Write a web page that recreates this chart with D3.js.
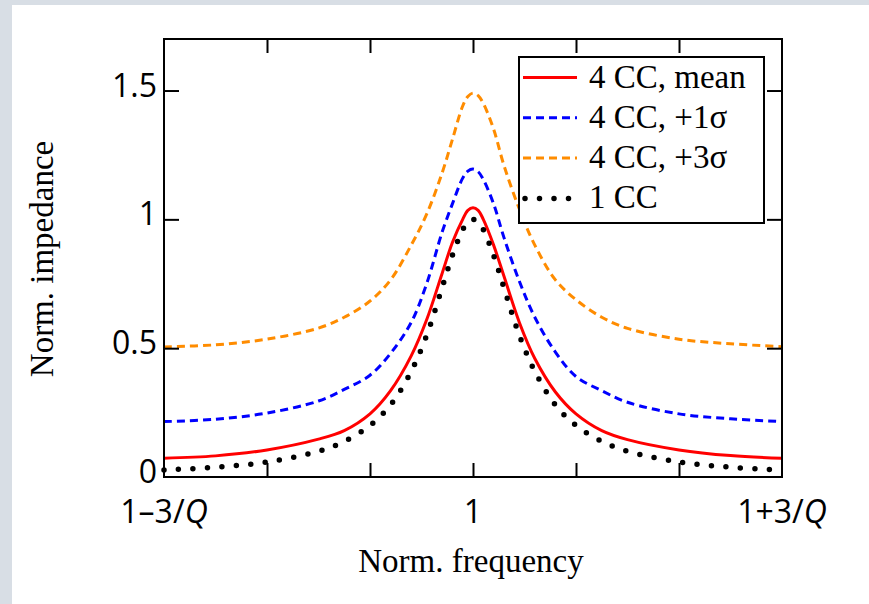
<!DOCTYPE html>
<html>
<head>
<meta charset="utf-8">
<script src="https://cdn.jsdelivr.net/npm/d3@7"></script>
<style>
  html, body { margin: 0; padding: 0; background: #d8dee5; }
  svg { display: block; }
</style>
</head>
<body>
<svg id="chart" width="869" height="604"></svg>
<script>
// detuning in units of 1/Q around the resonance
const detuning = [-3, -2.5, -2, -1.5, -1.25, -1, -0.8, -0.6, -0.45, -0.3, -0.2, -0.1, -0.05, 0,
                  0.05, 0.1, 0.2, 0.3, 0.45, 0.6, 0.8, 1, 1.25, 1.5, 2, 2.5, 3];

const meanCC4 = [0.073, 0.082, 0.105, 0.147, 0.18, 0.245, 0.335, 0.47, 0.61, 0.79, 0.91, 1.0, 1.035, 1.045,
                 1.035, 1.0, 0.9, 0.78, 0.6, 0.46, 0.33, 0.245, 0.18, 0.145, 0.105, 0.083, 0.073];
const plus1Sigma = [0.215, 0.224, 0.248, 0.295, 0.34, 0.395, 0.48, 0.6, 0.75, 0.95, 1.06, 1.16, 1.187, 1.195,
                    1.185, 1.155, 1.06, 0.93, 0.76, 0.62, 0.485, 0.39, 0.335, 0.29, 0.245, 0.226, 0.215];
const plus3Sigma = [0.505, 0.513, 0.535, 0.578, 0.62, 0.683, 0.765, 0.9, 1.02, 1.18, 1.31, 1.44, 1.477, 1.49,
                    1.48, 1.45, 1.35, 1.21, 1.04, 0.9, 0.765, 0.688, 0.62, 0.577, 0.535, 0.517, 0.506];
const oneCC = [0.027, 0.038, 0.058, 0.1, 0.138, 0.2, 0.28, 0.41, 0.55, 0.735, 0.86, 0.96, 0.99, 1.0,
               0.99, 0.96, 0.86, 0.735, 0.55, 0.41, 0.28, 0.2, 0.138, 0.1, 0.058, 0.038, 0.027];

const seriesNames = ["4 CC, mean", "4 CC, +1\u03c3", "4 CC, +3\u03c3", "1 CC"];
const seriesColors = ["#ff0000", "#0000ff", "#ff8c00", "#000000"];

const yTickValues = [0.5, 1, 1.5];
const yTickLabels = ["0", "0.5", "1", "1.5"];
const yLabelValues = [0, 0.5, 1, 1.5];
const xTickValues = [-2, -1, 0, 1, 2];
const xLabelValues = [-3, 0, 3];
const xLabelText = ["1\u20133/", "1", "1+3/"];
const xLabelItalic = ["Q", "", "Q"];

var svg = d3.select("#chart")

// white panel on the grey slide
svg.append("rect")
  .attr("x", 12).attr("y", 5)
  .attr("width", 869 - 12).attr("height", 604 - 5)
  .attr("fill", "#ffffff")

var plotLeft = 164, plotRight = 782, plotTop = 39, plotBottom = 477

var x = d3.scaleLinear().domain([-3, 3]).range([plotLeft, plotRight])
var y = d3.scaleLinear().domain([0, 1.7]).range([plotBottom, plotTop])

var styles = [
  { dash: null, width: 3, cap: "butt" },
  { dash: "8 5", width: 3, cap: "butt" },
  { dash: "8 5", width: 3, cap: "butt" },
  { dash: "0 14.5", width: 5.5, cap: "round" }
]
var allValues = [meanCC4, plus1Sigma, plus3Sigma, oneCC]

var series = seriesNames.map(function(name, i) {
  return {
    name: name,
    color: seriesColors[i],
    style: styles[i],
    points: detuning.map(function(u, j) { return [u, allValues[i][j]] })
  }
})

var line = d3.line()
  .x(function(d) { return x(d[0]) })
  .y(function(d) { return y(d[1]) })
  .curve(d3.curveCatmullRom.alpha(0.5))

// curves
svg.append("g")
  .selectAll("path")
  .data(series)
  .enter()
  .append("path")
  .attr("d", function(d) { return line(d.points) })
  .attr("fill", "none")
  .attr("stroke", function(d) { return d.color })
  .attr("stroke-width", function(d) { return d.style.width })
  .attr("stroke-dasharray", function(d) { return d.style.dash })
  .attr("stroke-linecap", function(d) { return d.style.cap })

// inward ticks on all four sides
svg.append("g")
  .attr("transform", "translate(0," + plotBottom + ")")
  .call(d3.axisBottom(x).tickValues(xTickValues).tickSize(-14).tickFormat(""))
svg.append("g")
  .attr("transform", "translate(0," + plotTop + ")")
  .call(d3.axisTop(x).tickValues(xTickValues).tickSize(-14).tickFormat(""))
svg.append("g")
  .attr("transform", "translate(" + plotLeft + ",0)")
  .call(d3.axisLeft(y).tickValues(yTickValues).tickSize(-15).tickFormat(""))
svg.append("g")
  .attr("transform", "translate(" + plotRight + ",0)")
  .call(d3.axisRight(y).tickValues(yTickValues).tickSize(-15).tickFormat(""))
svg.selectAll(".domain").remove()
svg.selectAll(".tick line").attr("stroke", "#000").attr("stroke-width", 2)

// frame
svg.append("rect")
  .attr("x", plotLeft).attr("y", plotTop)
  .attr("width", plotRight - plotLeft).attr("height", plotBottom - plotTop)
  .attr("fill", "none")
  .attr("stroke", "#000")
  .attr("stroke-width", 2)

// y tick labels
svg.append("g")
  .selectAll("text")
  .data(yLabelValues)
  .enter()
  .append("text")
  .attr("x", plotLeft - 7)
  .attr("y", function(d) { return y(d) + 6 })
  .attr("text-anchor", "end")
  .style("font-family", "'Open Sans', sans-serif")
  .style("font-size", "32px")
  .text(function(d, i) { return yTickLabels[i] })

// x tick labels
var xl = svg.append("g")
  .selectAll("text")
  .data(xLabelValues)
  .enter()
  .append("text")
  .attr("x", function(d) { return x(d) })
  .attr("y", plotBottom + 46)
  .attr("text-anchor", "middle")
  .style("font-family", "'Open Sans', sans-serif")
  .style("font-size", "32px")
xl.append("tspan").text(function(d, i) { return xLabelText[i] })
xl.append("tspan").style("font-style", "italic").text(function(d, i) { return xLabelItalic[i] })

// axis titles
svg.append("text")
  .attr("x", 471)
  .attr("y", 572)
  .attr("text-anchor", "middle")
  .style("font-family", "'Liberation Serif', 'Times New Roman', serif")
  .style("font-size", "33px")
  .text("Norm. frequency")

svg.append("text")
  .attr("transform", "translate(53,259) rotate(-90)")
  .attr("text-anchor", "middle")
  .style("font-family", "'Liberation Serif', 'Times New Roman', serif")
  .style("font-size", "33px")
  .text("Norm. impedance")

// legend
var legend = svg.append("g").attr("transform", "translate(519,57)")
legend.append("rect")
  .attr("width", 245).attr("height", 166)
  .attr("fill", "#ffffff")
  .attr("stroke", "#000")
  .attr("stroke-width", 2)

var rows = legend.selectAll("g.row")
  .data(series)
  .enter()
  .append("g")
  .attr("class", "row")
  .attr("transform", function(d, i) { return "translate(0," + (20.5 + i * 40.3) + ")" })

rows.append("line")
  .attr("x1", function(d) { return d.style.cap == "round" ? 6 : 4 })
  .attr("x2", 58)
  .attr("stroke", function(d) { return d.color })
  .attr("stroke-width", function(d) { return d.style.width })
  .attr("stroke-dasharray", function(d) { return d.style.dash })
  .attr("stroke-linecap", function(d) { return d.style.cap })

rows.append("text")
  .attr("x", 70)
  .attr("y", 10)
  .style("font-family", "'Liberation Serif', 'Times New Roman', serif")
  .style("font-size", "33px")
  .text(function(d) { return d.name })
</script>
</body>
</html>
